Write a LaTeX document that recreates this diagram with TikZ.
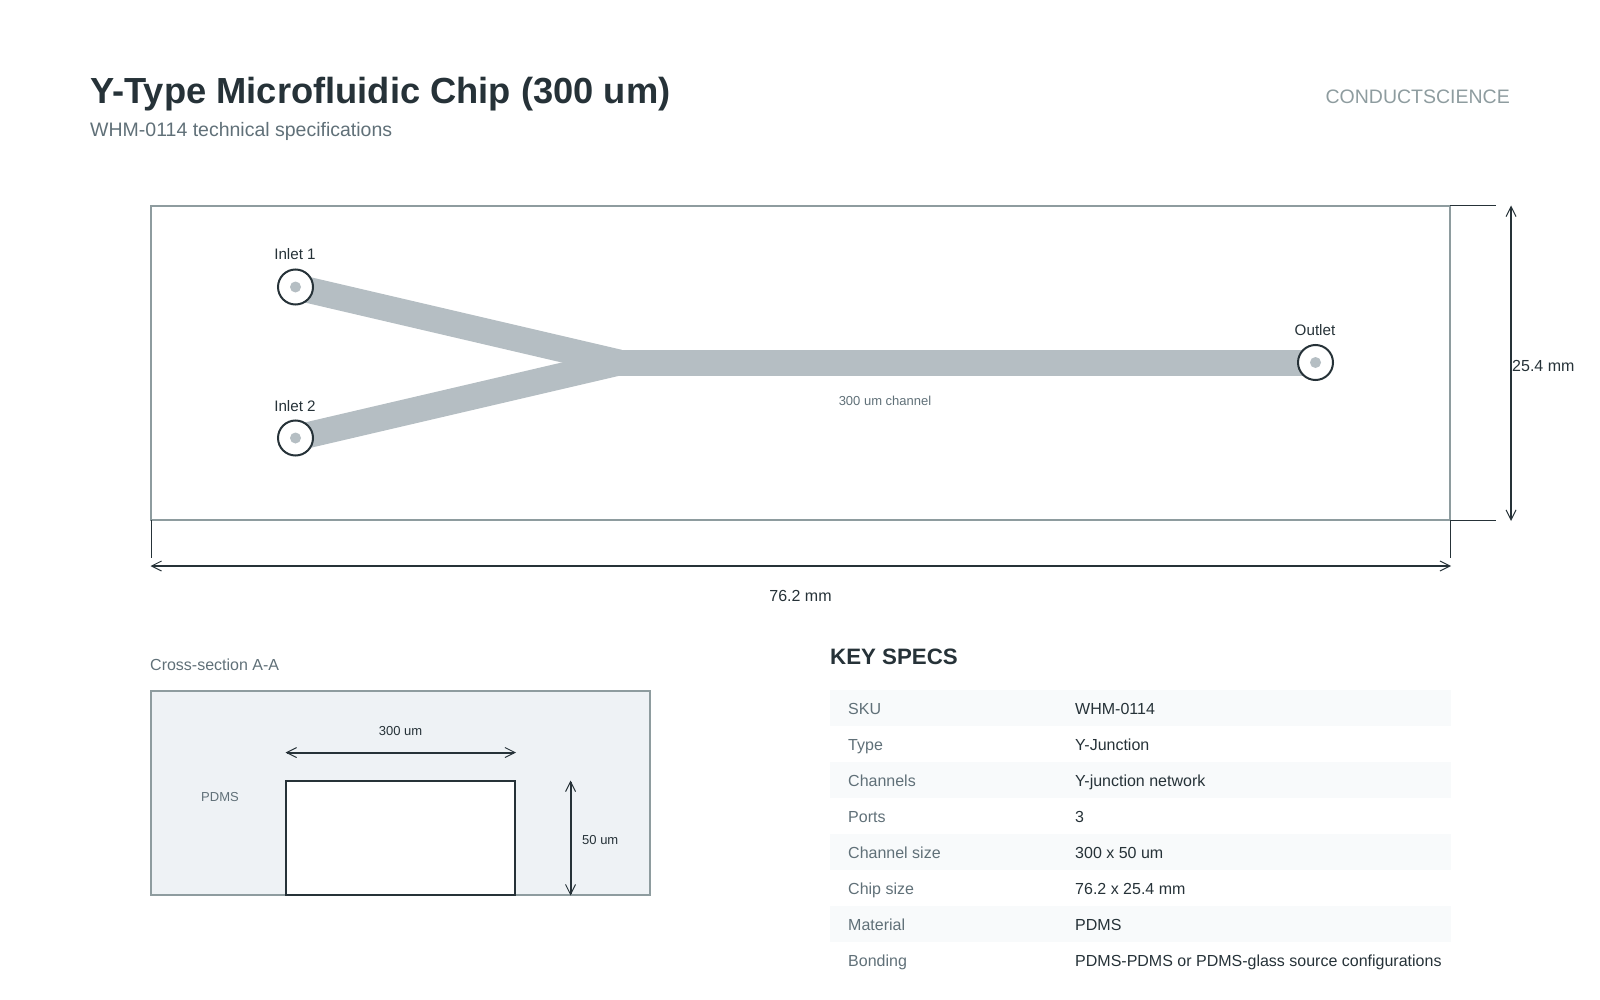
\documentclass[tikz,border=0pt]{standalone}
\usepackage{fontspec}
\setmainfont{Liberation Sans}
\usetikzlibrary{arrows.meta,backgrounds}
\newcommand{\fpx}[1]{\fontsize{#1}{#1}\selectfont}
\definecolor{ink}{HTML}{263238}
\definecolor{slate}{HTML}{607078}
\definecolor{edge}{HTML}{8E9C9F}
\definecolor{chan}{HTML}{B5BEC3}
\definecolor{pdms}{HTML}{EEF2F5}
\definecolor{stripe}{HTML}{F8FAFB}
\tikzset{
  txt/.style={anchor=base west, inner sep=0pt, text=ink},
  mid/.style={anchor=base, inner sep=0pt, text=ink},
  plate/.style={draw=edge, line width=2pt, anchor=north west, inner sep=0pt, outer sep=0pt},
  channel/.style={chan, line width=26pt},
  port/.style={circle, draw=ink, line width=2pt, fill=white, minimum size=35pt, inner sep=0pt},
  portdot/.style={circle, fill=chan, minimum size=11pt, inner sep=0pt},
  dimline/.style={ink, line width=2pt, {Straight Barb[length=10pt,width=10pt,line width=1pt]}-{Straight Barb[length=10pt,width=10pt,line width=1pt]}},
  extline/.style={ink, line width=1pt},
}
\begin{document}
\begin{tikzpicture}[x=1pt, y=-1pt]
  \useasboundingbox (0,0) rectangle (1600,1000);

  % ---- Header -------------------------------------------------
  \node[txt, font=\fpx{36.3}\bfseries] (title) at (90,103.5) {Y-Type Microfluidic Chip (300 um)};
  \node[txt, font=\fpx{19.5}, text=slate] (subtitle) at (90,137) {WHM-0114 technical specifications};
  \node[anchor=base east, inner sep=0pt, font=\fpx{19.5}, text=edge] (brand) at (1510,104) {CONDUCTSCIENCE};

  % ---- Chip outline -------------------------------------------
  \node[plate, minimum width=1299pt, minimum height=314pt] (chip) at (151,206) {};

  % ---- Channels -----------------------------------------------
  \coordinate (junction) at (619,362.5);
  \node[port] (inlet1) at (295.5,287) {};
  \node[port] (inlet2) at (295.5,438) {};
  \node[port] (outlet) at (1315.5,362.5) {};
  \begin{scope}[on background layer]
    \draw[channel] (inlet1.center) -- (junction);
    \draw[channel] (inlet2.center) -- (junction);
    \draw[channel] (junction) -- (outlet.center);
  \end{scope}
  \node[portdot] (dot1) at (inlet1) {};
  \node[portdot] (dot2) at (inlet2) {};
  \node[portdot] (dot3) at (outlet) {};

  \node[mid, font=\fpx{15.2}] (lab1) at (295,260) {Inlet 1};
  \node[mid, font=\fpx{15.2}] (lab2) at (295,411) {Inlet 2};
  \node[mid, font=\fpx{15.2}] (lab3) at (1315,335) {Outlet};
  \node[mid, font=\fpx{13}, text=slate] (chanlab) at (885,405) {300 um channel};

  % ---- Chip dimensions ----------------------------------------
  \coordinate (wleft) at (150.5,566);
  \coordinate (wright) at (1451,566);
  \coordinate (htop) at (1511,205.5);
  \coordinate (hbot) at (1511,521);
  \draw[extline] (chip.south west) -- (151,558);
  \draw[extline] (chip.south east) -- (1450,558);
  \draw[extline] (chip.north east) -- (1496,206);
  \draw[extline] (chip.south east) -- (1496,520);
  \draw[dimline] (wleft) -- (wright);
  \draw[dimline] (htop) -- (hbot);
  \node[mid, font=\fpx{16}] (wlab) at (800.5,601) {76.2 mm};
  \node[txt, font=\fpx{16}] (hlab) at (1512,371) {25.4 mm};

  % ---- Cross-section ------------------------------------------
  \node[txt, font=\fpx{16}, text=slate] (sectitle) at (150,670) {Cross-section A-A};
  \node[plate, fill=pdms, minimum width=499pt, minimum height=204pt] (slab) at (151,691) {};
  \node[plate, draw=ink, fill=white, minimum width=229pt, minimum height=114pt] (void) at (286,781) {};
  \coordinate (aleft) at (285.5,752.5);
  \coordinate (aright) at (516,752.5);
  \coordinate (btop) at (570.5,780.5);
  \coordinate (bbot) at (570.5,895.5);
  \draw[dimline] (aleft) -- (aright);
  \draw[dimline] (btop) -- (bbot);
  \node[mid, font=\fpx{13}] (widthlab) at (400.5,735) {300 um};
  \node[txt, font=\fpx{13}] (depthlab) at (582,844) {50 um};
  \node[mid, font=\fpx{13}, text=slate] (pdmslab) at (220,801) {PDMS};

  % ---- Key specs table ----------------------------------------
  \node[txt, font=\fpx{22.3}\bfseries] (keyspecs) at (830,664) {KEY SPECS};
  \foreach \r/\key/\val in {0/SKU/WHM-0114, 1/Type/Y-Junction, 2/Channels/Y-junction network,
      3/Ports/3, 4/Channel size/300 x 50 um, 5/Chip size/76.2 x 25.4 mm,
      6/Material/PDMS, 7/Bonding/PDMS-PDMS or PDMS-glass source configurations} {
    \ifodd\r\else
      \fill[stripe] (830,690+36*\r) rectangle (1451,726+36*\r);
    \fi
    \node[txt, font=\fpx{16}, text=slate] (key\r) at (848,714+36*\r) {\key};
    \node[txt, font=\fpx{16}] (val\r) at (1075,714+36*\r) {\val};
  }
\end{tikzpicture}
\end{document}
